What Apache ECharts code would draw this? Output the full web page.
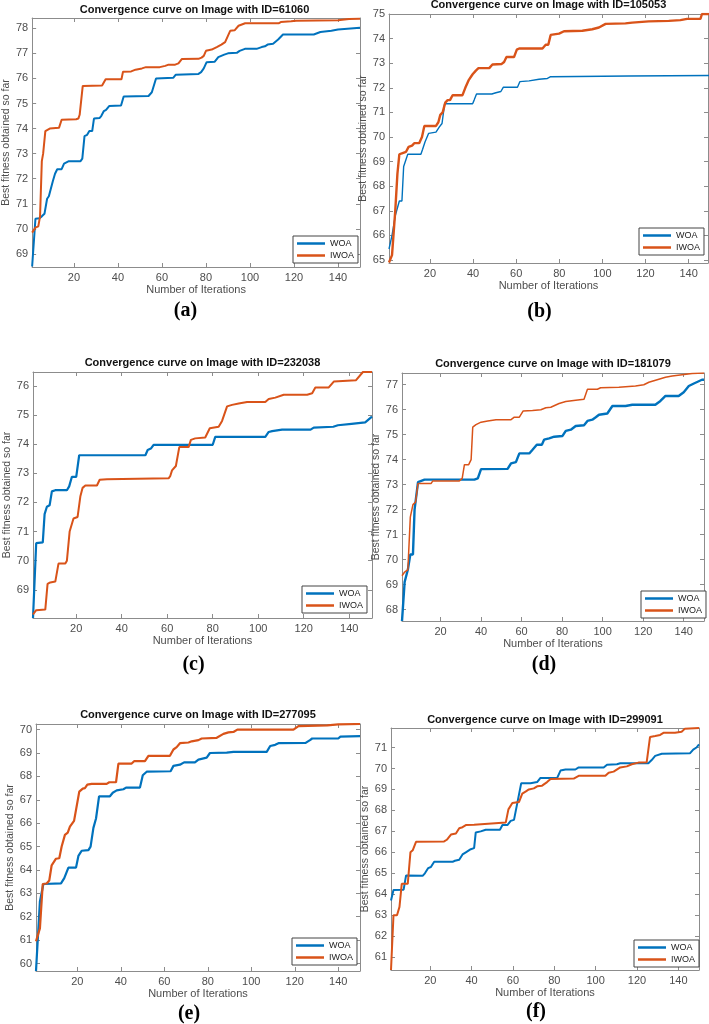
<!DOCTYPE html>
<html>
<head>
<meta charset="utf-8">
<script src="https://cdn.jsdelivr.net/npm/echarts@6/dist/echarts.min.js"></script>
<style>
html, body { margin: 0; padding: 0; background: #fff; }
#chart { width: 709px; height: 1024px; }
</style>
</head>
<body>
<div id="chart"></div>
<script>
// iterations where x labels sit
const xTicks = [20, 40, 60, 80, 100, 120, 140];
const seriesNames = ['WOA', 'IWOA'];
const imageIds = ['61060', '105053', '232038', '181079', '277095', '299091'];
const panelTags = ['(a)', '(b)', '(c)', '(d)', '(e)', '(f)'];

// (a) ID=61060
const woaA = [[1,68.5],[2.5,70.4],[4.2,70.42],[5.4,70.5],[6.6,70.6],[7,70.6],[7.8,71.2],[8.6,71.3],[9.4,71.3],[10.4,71.9],[11.4,72.2],[12.4,72.38],[14.4,72.38],[15.5,72.6],[16.2,72.65],[17.7,72.7],[23,72.7],[23.8,72.8],[24.8,73.7],[26,73.75],[27,73.9],[28.3,73.9],[29.1,74.4],[31.6,74.42],[32.4,74.5],[33.6,74.7],[34.6,74.75],[36,74.9],[41.4,74.92],[42.6,75.28],[53.9,75.3],[55.4,75.45],[56.2,75.5],[57.3,76.0],[65.2,76.03],[66.3,76.15],[76.6,76.18],[77.8,76.25],[79,76.4],[80.3,76.65],[84,76.67],[85.6,76.85],[88.3,76.95],[90,77.0],[94,77.02],[95.3,77.1],[97.7,77.18],[103,77.18],[105.3,77.25],[106.8,77.28],[108,77.35],[110.5,77.38],[112.8,77.55],[115,77.75],[129,77.75],[132,77.85],[137,77.9],[140,77.95],[150,78.02]];
const iwoaA = [[1,69.85],[2.5,70.05],[3.8,70.1],[4.6,70.5],[5.4,72.7],[6,73.0],[7,73.9],[9,74.0],[13.2,74.03],[14.4,74.35],[21,74.37],[22,74.4],[22.6,74.55],[24,75.7],[32.8,75.72],[33.1,75.75],[34.4,75.97],[41.6,75.97],[42.3,76.27],[46,76.28],[48,76.35],[50.9,76.4],[52.7,76.45],[59,76.45],[61.5,76.5],[63,76.55],[66,76.55],[67.5,76.6],[69,76.77],[76.6,76.78],[78,76.83],[79,76.9],[80,77.1],[82.6,77.15],[84.9,77.25],[87,77.35],[88.7,77.45],[91,77.9],[93,77.92],[94.8,78.1],[96.3,78.15],[97.8,78.2],[113,78.2],[114,78.25],[118.7,78.28],[121,78.3],[140,78.32],[145,78.37],[150,78.38]];

// (b) ID=105053
const woaB = [[1,65.45],[2.4,66.0],[3.9,66.8],[5.8,67.4],[7,67.4],[7.8,68.8],[8.6,68.8],[9.7,69.3],[15.8,69.3],[16.6,69.5],[17.7,69.8],[19.4,70.15],[22.8,70.2],[24.3,70.4],[25.6,70.55],[26.8,71.35],[39.8,71.35],[40.5,71.5],[41.6,71.75],[48.7,71.75],[50.6,71.8],[52.9,71.85],[54,72.02],[60.6,72.02],[61.7,72.25],[66,72.28],[70.6,72.35],[74.5,72.38],[76,72.45],[112.3,72.48],[113,72.5],[150,72.5]];
const iwoaB = [[1,64.9],[2.4,65.2],[3.9,67.0],[4.9,68.5],[5.8,69.3],[7.3,69.35],[8.9,69.4],[10.1,69.6],[11.7,69.65],[12.7,69.75],[15,69.75],[16.3,70.0],[17.4,70.45],[22.8,70.45],[23.9,70.6],[24.8,70.9],[25.9,71.0],[27.1,71.4],[28.2,71.5],[29.3,71.5],[30.5,71.7],[35.1,71.7],[36.4,72.0],[37.9,72.3],[39.8,72.55],[41.3,72.7],[42.5,72.8],[47.5,72.8],[49,72.95],[53.3,72.97],[54.4,73.05],[55.5,73.25],[59,73.25],[60.3,73.55],[61.4,73.6],[72.2,73.6],[73.7,73.75],[74.9,73.75],[76,74.15],[79.9,74.2],[82.2,74.3],[90.7,74.32],[95.3,74.38],[98.4,74.45],[101.5,74.6],[110.7,74.62],[113.8,74.65],[121.5,74.7],[130.8,74.72],[136.2,74.75],[139.3,74.8],[145.5,74.8],[146.2,75.0],[150,75.0]];

// (c) ID=232038
const woaC = [[1,68.03],[2.4,70.6],[5.3,70.63],[6.1,71.6],[7.1,71.85],[8.3,71.9],[9.3,72.38],[10.8,72.42],[15.9,72.42],[16.9,72.55],[18.1,72.88],[20,72.88],[21.3,73.62],[50.4,73.62],[51.4,73.8],[52.8,73.85],[54,73.98],[80,73.98],[81.1,74.25],[103.1,74.25],[104.6,74.42],[106.1,74.45],[110.5,74.5],[123,74.5],[124.4,74.57],[133,74.6],[135,74.65],[141,74.7],[147,74.75],[150,74.95]];
const iwoaC = [[1,68.15],[2.4,68.3],[6.4,68.32],[7.4,69.2],[8.6,69.25],[10.8,69.28],[12.2,69.9],[15.2,69.9],[15.9,70.0],[17.1,71.0],[17.8,71.05],[18.8,71.45],[20.6,71.5],[21.8,72.2],[22.8,72.5],[24,72.58],[29.1,72.58],[30.3,72.78],[33.5,72.8],[34.2,72.83],[60.6,72.83],[61.3,72.9],[62.1,73.1],[63.8,73.25],[65.3,73.9],[69.4,73.9],[70.4,74.15],[72.3,74.2],[76.7,74.23],[78.7,74.55],[82.6,74.6],[84.1,74.8],[86.3,75.3],[88.5,75.35],[91.4,75.4],[95.1,75.45],[103.1,75.45],[104.6,75.55],[107.5,75.6],[111.2,75.7],[121.5,75.7],[123.7,75.75],[125.1,75.95],[131,75.95],[133.2,76.15],[143,76.2],[146,76.48],[150,76.48]];

// (d) ID=181079
const woaD = [[1,67.54],[2.3,69.1],[3.1,69.15],[3.9,69.6],[5.1,70.2],[6.4,70.2],[7.2,72.0],[8.9,73.1],[12.1,73.2],[36.7,73.2],[38.4,73.25],[40,73.62],[53.1,73.63],[54.8,73.85],[57.2,73.9],[58.9,74.25],[63.8,74.25],[65.4,74.4],[67.5,74.6],[70,74.6],[71.1,74.8],[73.6,74.85],[76.1,74.92],[80.2,74.95],[81.8,75.15],[84.3,75.2],[86.7,75.35],[90.8,75.38],[92.5,75.55],[94.9,75.6],[96.6,75.7],[98.2,75.8],[102.3,75.85],[104.8,76.15],[111.3,76.15],[114.6,76.2],[126,76.2],[128.5,76.35],[131,76.55],[137.5,76.55],[140,76.7],[142.5,76.95],[145,77.05],[149,77.2],[150,77.2]];
const iwoaD = [[1,69.35],[2.3,69.5],[3.9,69.6],[5.1,71.7],[6.4,72.2],[7.2,72.2],[7.7,72.3],[8.9,73.05],[15.4,73.05],[16.2,73.15],[29.3,73.15],[30.7,73.25],[31.8,73.8],[33.9,73.8],[35.1,74.0],[35.9,75.3],[37.5,75.4],[40,75.5],[43.3,75.55],[47.4,75.6],[54.8,75.6],[56.4,75.7],[58.9,75.7],[60.8,75.95],[65.4,75.97],[69.5,76.0],[72,76.08],[74.4,76.1],[78.5,76.25],[81.8,76.33],[86.7,76.38],[90.8,76.42],[92.5,76.82],[97.4,76.82],[99,76.88],[108,76.9],[112.9,76.93],[116.2,76.95],[120.3,77.0],[122.8,77.1],[126.9,77.2],[131,77.3],[134.3,77.35],[139.2,77.4],[144.1,77.45],[150,77.47]];

// (e) ID=277095
const woaE = [[1,59.68],[2.8,62.65],[3.6,62.65],[4.4,63.4],[12.5,63.43],[14,63.65],[14.8,63.7],[15.9,64.1],[19.4,64.1],[20.5,64.6],[22,64.82],[25.1,64.85],[26.1,65.0],[27.4,65.8],[28.6,66.2],[30,67.15],[35,67.15],[36.3,67.3],[38.1,67.4],[41.2,67.45],[42.4,67.52],[48.8,67.52],[50.1,68.05],[51.9,68.2],[62.9,68.22],[64.2,68.45],[67.2,68.5],[69.1,68.6],[74.1,68.6],[75.7,68.72],[79.5,68.8],[81,69.0],[88.7,69.02],[91.8,69.05],[107.1,69.05],[108.7,69.3],[111,69.35],[112.5,69.42],[125,69.43],[127,69.55],[128,69.62],[140,69.62],[141,69.7],[150,69.72]];
const iwoaE = [[1,60.95],[1.8,61.0],[2.8,61.5],[4.1,63.4],[5.9,63.42],[7.1,63.55],[8.2,64.2],[9,64.25],[10.2,64.48],[11.7,64.5],[12.8,65.0],[14.3,65.5],[15.6,65.6],[16.6,65.85],[17.4,65.9],[18.5,66.1],[19.4,66.15],[20.9,67.35],[22.5,67.48],[23.5,67.5],[24.6,67.65],[26.6,67.68],[33.5,67.68],[34.7,67.75],[37.8,67.75],[38.9,68.55],[45,68.55],[46.1,68.65],[51.1,68.65],[52.7,68.88],[62.6,68.88],[64.2,69.15],[65.7,69.25],[67.2,69.42],[71.1,69.45],[72.6,69.5],[75.7,69.55],[77.2,69.62],[84.1,69.65],[87.2,69.82],[89.5,69.88],[91.8,69.9],[93.6,70.0],[119.4,70.0],[121.7,70.15],[135,70.18],[140,70.22],[150,70.24]];

// (f) ID=299091
const woaF = [[1,63.7],[2.2,64.2],[7.1,64.22],[8.3,64.9],[16.3,64.88],[17.4,65.0],[19,65.25],[20.3,65.3],[21.9,65.55],[30.8,65.55],[31.9,65.6],[34,65.65],[35.6,65.9],[37.2,66.0],[39.6,66.15],[41.2,66.2],[42,66.95],[44.4,67.0],[46.8,67.08],[53.7,67.08],[54.9,67.3],[57.3,67.3],[58.9,67.5],[60.5,67.55],[64,69.3],[68.5,69.3],[71.7,69.35],[73.3,69.55],[81.4,69.55],[83,69.9],[85.4,69.95],[90.2,69.95],[91.8,70.05],[103.9,70.05],[105.5,70.18],[110.3,70.2],[111.9,70.25],[125.5,70.25],[127.1,70.4],[128.8,70.6],[132,70.7],[145.6,70.72],[147.2,70.9],[148.8,71.0],[150,71.15]];
const iwoaF = [[1,60.39],[2.2,63.0],[3.9,63.0],[5.1,63.4],[6.2,64.5],[9.1,64.5],[10.4,66.0],[11.5,66.1],[13.1,66.5],[26.7,66.52],[28,66.6],[30,66.85],[32.4,66.9],[34,67.15],[35.6,67.2],[37.2,67.3],[41.2,67.32],[42,67.4],[56.5,67.42],[57.8,68.05],[59.7,68.35],[62.9,68.4],[64.5,68.8],[66.1,68.9],[67.7,69.0],[70.1,69.05],[71.7,69.15],[74.1,69.18],[76.5,69.35],[78.2,69.5],[89.4,69.52],[91.8,69.65],[104.7,69.65],[106.3,69.8],[108.7,69.85],[111.9,70.05],[115.1,70.1],[117.5,70.2],[120.7,70.28],[124.7,70.3],[126.3,71.5],[128.8,71.55],[131.2,71.6],[132.8,71.7],[138.4,71.7],[141.6,71.75],[143.2,71.9],[150,71.93]];

// y limits and y tick labels per panel
const yLimits = [[68.48, 78.41], [64.88, 75.0], [68.03, 76.48], [67.54, 77.47], [59.68, 70.24], [60.39, 71.93]];
const yTickLists = [
    [69, 70, 71, 72, 73, 74, 75, 76, 77, 78],
    [65, 66, 67, 68, 69, 70, 71, 72, 73, 74, 75],
    [69, 70, 71, 72, 73, 74, 75, 76],
    [68, 69, 70, 71, 72, 73, 74, 75, 76, 77],
    [60, 61, 62, 63, 64, 65, 66, 67, 68, 69, 70],
    [61, 62, 63, 64, 65, 66, 67, 68, 69, 70, 71]
];
const xMaxes = [150, 149, 150, 150, 150, 150];
const woaData = [woaA, woaB, woaC, woaD, woaE, woaF];
const iwoaData = [iwoaA, iwoaB, iwoaC, iwoaD, iwoaE, iwoaF];

// layout in pixels (plot box, title, tag, legend, axis name gaps)
const layout = [
    {left: 29, top: 18, width: 331, height: 249, titleY: 10, tagY: 311, yGap: 18, legend: [293, 236], lw: [2, 2]},
    {left: 389, top: 14, width: 319, height: 249, titleY: 5, tagY: 312, yGap: 15, legend: [639, 228], lw: [1.4, 2.4]},
    {left: 33, top: 372, width: 339, height: 246, titleY: 363, tagY: 665, yGap: 19, legend: [302, 586], lw: [2.2, 2]},
    {left: 402, top: 373, width: 302, height: 248, titleY: 364, tagY: 665, yGap: 16, legend: [641, 591], lw: [2.4, 1.5]},
    {left: 36, top: 724, width: 324, height: 247, titleY: 715, tagY: 1014, yGap: 18, legend: [292, 938], lw: [2.2, 2.2]},
    {left: 391, top: 728, width: 308, height: 242, titleY: 720, tagY: 1012, yGap: 18, legend: [634, 940], lw: [2, 2]}
];

const colors = ['#0072BD', '#D95319'];
const boxColor = '#8c8c8c';
const labelColor = '#4d4d4d';
const font = 'Liberation Sans';

let grids = [], xAxes = [], yAxes = [], series = [], legends = [], texts = [];

layout.forEach((p, i) => {
    grids.push({left: p.left, top: p.top, width: p.width, height: p.height, containLabel: false});
    let tickStyle = {lineStyle: {color: boxColor, width: 1}};
    let xBase = {
        type: 'value', gridIndex: i, min: 1, max: xMaxes[i],
        axisLine: {show: true, onZero: false, lineStyle: {color: boxColor, width: 1}},
        splitLine: {show: false}
    };
    xAxes.push(Object.assign({}, xBase, {
        position: 'bottom',
        axisTick: Object.assign({inside: true, length: 4, customValues: xTicks}, tickStyle),
        axisLabel: {customValues: xTicks, color: labelColor, fontSize: 11, fontFamily: font, margin: 5},
        name: 'Number of Iterations', nameLocation: 'middle', nameGap: 17,
        nameTextStyle: {color: labelColor, fontSize: 11, fontFamily: font}
    }));
    xAxes.push(Object.assign({}, xBase, {
        position: 'top',
        axisTick: Object.assign({inside: true, length: 4, customValues: xTicks}, tickStyle),
        axisLabel: {show: false}
    }));
    let yBase = {
        type: 'value', gridIndex: i, min: yLimits[i][0], max: yLimits[i][1],
        axisLine: {show: true, onZero: false, lineStyle: {color: boxColor, width: 1}},
        splitLine: {show: false}
    };
    yAxes.push(Object.assign({}, yBase, {
        position: 'left',
        axisTick: Object.assign({inside: true, length: 4, customValues: yTickLists[i]}, tickStyle),
        axisLabel: {customValues: yTickLists[i], color: labelColor, fontSize: 11, fontFamily: font, margin: 4},
        name: 'Best fitness obtained so far', nameLocation: 'middle', nameGap: p.yGap,
        nameTextStyle: {color: labelColor, fontSize: 10.5, fontFamily: font}
    }));
    yAxes.push(Object.assign({}, yBase, {
        position: 'right',
        axisTick: Object.assign({inside: true, length: 4, customValues: yTickLists[i]}, tickStyle),
        axisLabel: {show: false}
    }));

    [woaData[i], iwoaData[i]].forEach((d, k) => {
        series.push({
            name: seriesNames[k], type: 'line',
            xAxisIndex: i * 2, yAxisIndex: i * 2,
            data: d, symbol: 'none', color: colors[k],
            lineStyle: {color: colors[k], width: p.lw[k]}
        });
    });

    // legend items drawn as plain line samples (thin rects)
    legends.push({
        left: p.legend[0], top: p.legend[1], orient: 'vertical',
        data: seriesNames.map((n, k) => ({name: n, icon: 'rect', itemStyle: {color: colors[k]}})),
        selectedMode: false,
        itemWidth: 28, itemHeight: 2.5, itemGap: 3,
        padding: [3, 4, 3, 4],
        borderColor: '#444', borderWidth: 1, backgroundColor: '#fff',
        textStyle: {fontSize: 9, color: '#222', fontFamily: font}
    });

    let cx = p.left + p.width / 2;
    texts.push({
        type: 'text', x: cx, y: p.titleY,
        style: {text: 'Convergence curve on Image with ID=' + imageIds[i],
            font: 'bold 11px "' + font + '"', fill: '#111',
            textAlign: 'center', textVerticalAlign: 'middle'}
    });
    texts.push({
        type: 'text', x: cx - 9, y: p.tagY,
        style: {text: panelTags[i], font: 'bold 20px "Liberation Serif"', fill: '#000',
            textAlign: 'center', textVerticalAlign: 'middle'}
    });
});

let chart = echarts.init(document.getElementById('chart'));
chart.setOption({
    animation: false,
    backgroundColor: '#fff',
    grid: grids,
    xAxis: xAxes,
    yAxis: yAxes,
    legend: legends,
    series: series,
    graphic: texts
});
</script>
</body>
</html>
